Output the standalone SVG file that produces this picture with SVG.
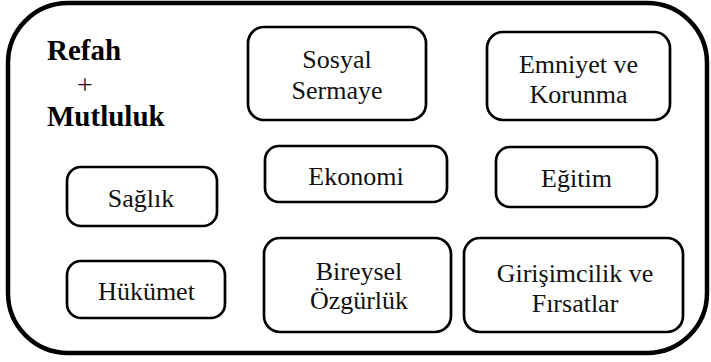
<svg xmlns="http://www.w3.org/2000/svg" width="711" height="362" viewBox="0 0 711 362">
<style>
.frame{fill:#fff;stroke:#000;stroke-width:4.5}
.node{fill:#fff;stroke:#000;stroke-width:2.7}
.t{font-family:'Liberation Serif','Times New Roman',serif;font-size:26px;fill:#111;text-anchor:middle}
.b{font-family:'Liberation Serif','Times New Roman',serif;font-size:29px;font-weight:bold;fill:#000}
</style>
<rect class="frame" x="8" y="3" width="699" height="350" rx="60" ry="60"/>
<g id="title">
<text class="b" x="47" y="60">Refah</text>
<text class="t" x="85" y="94" style="font-size:28px">+</text>
<text class="b" x="47" y="126">Mutluluk</text>
</g>
<g id="connectors"></g>
<g id="sosyal-sermaye">
<rect class="node" x="248" y="27" width="178" height="93" rx="16"/>
<text class="t" x="337" y="68">Sosyal</text>
<text class="t" x="337" y="99">Sermaye</text>
</g>
<g id="emniyet">
<rect class="node" x="487" y="32" width="183" height="88" rx="16"/>
<text class="t" x="578.5" y="73">Emniyet ve</text>
<text class="t" x="578.5" y="103">Korunma</text>
</g>
<g id="ekonomi">
<rect class="node" x="265" y="146" width="182" height="56" rx="14"/>
<text class="t" x="356" y="185">Ekonomi</text>
</g>
<g id="egitim">
<rect class="node" x="496" y="147" width="161" height="60" rx="14"/>
<text class="t" x="576.5" y="187">Eğitim</text>
</g>
<g id="saglik">
<rect class="node" x="67" y="167" width="150" height="59" rx="14"/>
<text class="t" x="141" y="207">Sağlık</text>
</g>
<g id="hukumet">
<rect class="node" x="67" y="261" width="158" height="57" rx="14"/>
<text class="t" x="146.5" y="300">Hükümet</text>
</g>
<g id="bireysel">
<rect class="node" x="264" y="238" width="187" height="94" rx="16"/>
<text class="t" x="359" y="280">Bireysel</text>
<text class="t" x="359" y="309">Özgürlük</text>
</g>
<g id="girisimcilik">
<rect class="node" x="464" y="238" width="219" height="94" rx="16"/>
<text class="t" x="575" y="282">Girişimcilik ve</text>
<text class="t" x="575" y="312">Fırsatlar</text>
</g>
</svg>
